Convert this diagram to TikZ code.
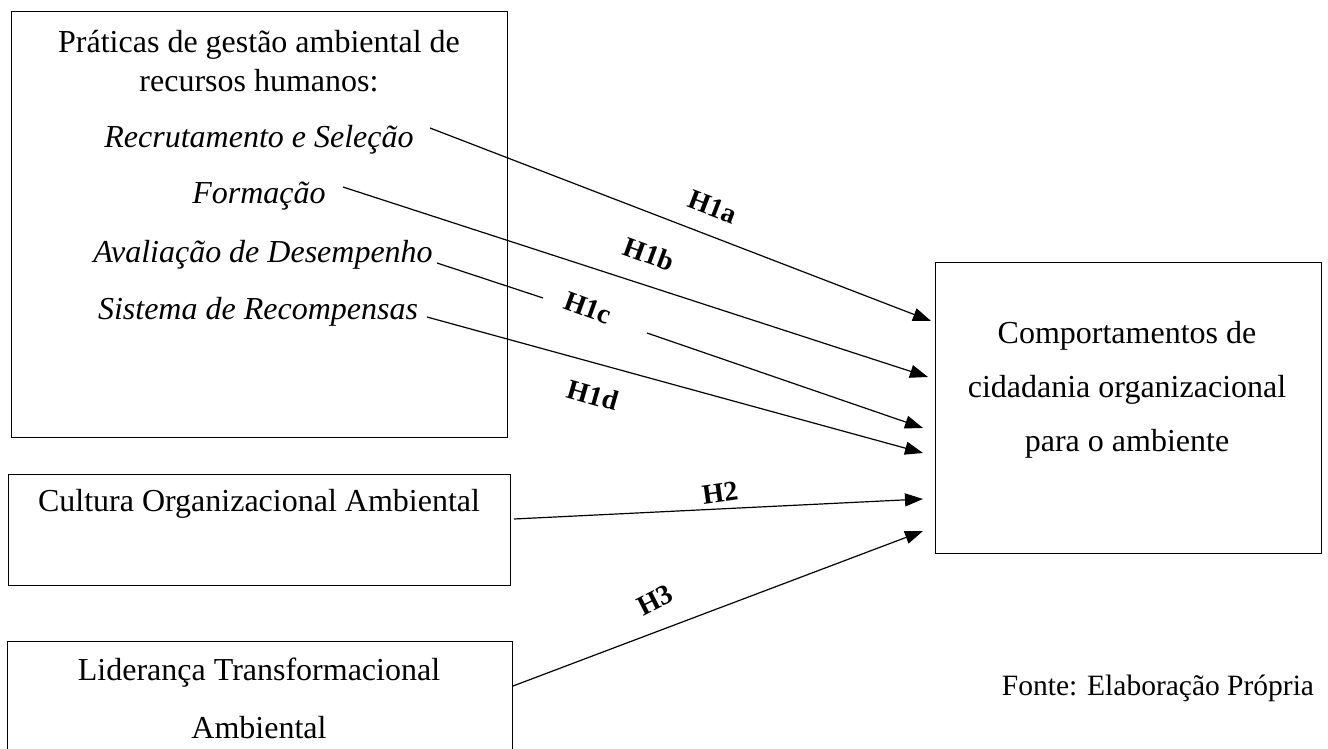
\documentclass[tikz,border=0pt]{standalone}
\usepackage{fontspec}
\setmainfont{Liberation Serif}
\usetikzlibrary{arrows.meta}
\begin{document}
\begin{tikzpicture}[x=1pt,y=-1pt,
  box/.style={draw, line width=1.4pt, anchor=north west, inner sep=0pt},
  txt/.style={font=\fontsize{32}{38}\selectfont, inner sep=0pt, anchor=center},
  itx/.style={font=\fontsize{32}{38}\selectfont\itshape, inner sep=0pt, anchor=center},
  conn/.style={line width=1.2pt, -{Triangle[length=18pt,width=13pt]}},
  seg/.style={line width=1.2pt},
  hyp/.style={font=\fontsize{28}{34}\selectfont\bfseries, inner sep=0pt}]
\useasboundingbox (0,0) rectangle (1328,749);
% boxes
\node[box, minimum width=496pt, minimum height=426pt] (pbox) at (11,11) {};
\node[box, minimum width=502pt, minimum height=111pt] (cbox) at (8,474) {};
\node[box, minimum width=505pt, minimum height=110pt] (lbox) at (7,641) {};
\node[box, minimum width=386pt, minimum height=291pt] (obox) at (935,262) {};
% texts
\node[txt] (p1) at (259,45) {Práticas de gestão ambiental de};
\node[txt] (p2) at (259,81) {recursos humanos:};
\node[itx] (rs) at (259,140) {Recrutamento e Seleção};
\node[itx] (fo) at (259,196) {Formação};
\node[itx] (av) at (263,255) {Avaliação de Desempenho};
\node[itx] (si) at (258,312) {Sistema de Recompensas};
\node[txt] (cu) at (259,504) {Cultura Organizacional Ambiental};
\node[txt] (li1) at (259,673) {Liderança Transformacional};
\node[txt] (li2) at (259,728) {Ambiental};
\node[txt] (o1) at (1127,336) {Comportamentos de};
\node[txt] (o2) at (1127,390) {cidadania organizacional};
\node[txt] (o3) at (1127,444) {para o ambiente};
\node[font=\fontsize{29.5}{35}\selectfont, inner sep=0pt] (fonte) at (1158,688) {Fonte: Elaboração Própria};
% connector end points
\coordinate (s1a) at (430,128);
\coordinate (e1a) at (931,321);
\coordinate (s1b) at (343,187);
\coordinate (e1b) at (928,377);
\coordinate (s1c) at (437,263);
\coordinate (m1c) at (543,298);
\coordinate (n1c) at (647,333);
\coordinate (e1c) at (923,428);
\coordinate (s1d) at (427,317);
\coordinate (e1d) at (923,453);
\coordinate (s2) at (514,519);
\coordinate (e2) at (923,499);
\coordinate (s3) at (513,686);
\coordinate (e3) at (923,531);
% connectors
\draw[conn] (s1a) -- (e1a);
\draw[conn] (s1b) -- (e1b);
\draw[seg] (s1c) -- (m1c);
\draw[conn] (n1c) -- (e1c);
\draw[conn] (s1d) -- (e1d);
\draw[conn] (s2) -- (e2);
\draw[conn] (s3) -- (e3);
% labels
\node[hyp, rotate=-21] (h1a) at (713,207) {H1a};
\node[hyp, rotate=-20] (h1b) at (649,254) {H1b};
\node[hyp, rotate=-20] (h1c) at (588,308) {H1c};
\node[hyp, rotate=-16] (h1d) at (593,395) {H1d};
\node[hyp, rotate=8] (h2) at (720,493) {H2};
\node[hyp, rotate=27] (h3) at (655,600) {H3};
\end{tikzpicture}
\end{document}
